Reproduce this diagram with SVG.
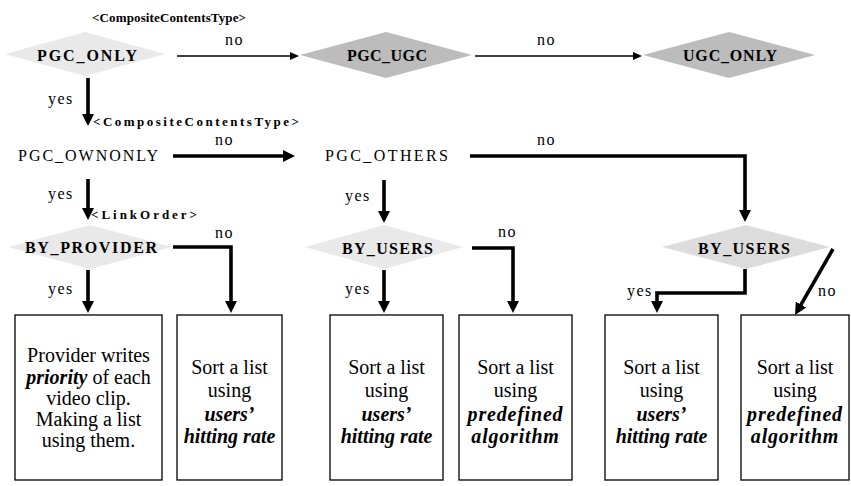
<svg xmlns="http://www.w3.org/2000/svg" width="851" height="486" viewBox="0 0 851 486" font-family="'Liberation Serif', 'DejaVu Serif', serif">
<style>
text{font-family:'Liberation Serif','DejaVu Serif',serif;fill:#000}
.tag{font-size:13px;font-weight:bold}
.lbl{font-size:16px;letter-spacing:1.5px}
.nb{font-size:16px;font-weight:bold}
.nr{font-size:16px}
.bx{font-size:20px;text-anchor:middle}
.bi{font-weight:bold;font-style:italic}
.faint{fill:#e9e9e9}
.dark{fill:#bcbcbc}
.mid{fill:#dcdcdc}
.box{fill:#fff;stroke:#000;stroke-width:1.3}
.thin{fill:none;stroke:#000;stroke-width:1.6}
.thick{fill:none;stroke:#000;stroke-width:3.6}
</style>
<defs>
<marker id="ah" markerUnits="userSpaceOnUse" markerWidth="12" markerHeight="12" refX="6" refY="6" orient="auto"><path d="M0,0 L12,6 L0,12 z" fill="#000"/></marker>
<marker id="as" markerUnits="userSpaceOnUse" markerWidth="9" markerHeight="8" refX="5" refY="4" orient="auto"><path d="M0,0 L9,4 L0,8 z" fill="#000"/></marker>
</defs>
<rect width="851" height="486" fill="#fff"/>

<text class="tag" x="92" y="22" textLength="154" lengthAdjust="spacing">&lt;CompositeContentsType&gt;</text>
<text class="tag" x="93" y="126" textLength="206" lengthAdjust="spacing">&lt;CompositeContentsType&gt;</text>
<text class="tag" x="91" y="219" textLength="106" lengthAdjust="spacing">&lt;LinkOrder&gt;</text>

<g id="pgc_only">
<polygon class="faint" points="5,54 85,32 165,54 85,76"/>
<text class="nb" x="37" y="61" textLength="100" lengthAdjust="spacing">PGC_ONLY</text>
</g>
<g id="pgc_ugc">
<polygon class="dark" points="300,55 386,32 472,55 386,78"/>
<text class="nb" x="347" y="61" textLength="80" lengthAdjust="spacing">PGC_UGC</text>
</g>
<g id="ugc_only">
<polygon class="dark" points="643,55 729,32 815,55 729,78"/>
<text class="nb" x="683" y="61" textLength="94" lengthAdjust="spacing">UGC_ONLY</text>
</g>
<g id="pgc_ownonly">
<text class="nr" x="18" y="161" textLength="140" lengthAdjust="spacing">PGC_OWNONLY</text>
</g>
<g id="pgc_others">
<text class="nr" x="325" y="161" textLength="123" lengthAdjust="spacing">PGC_OTHERS</text>
</g>
<g id="by_provider">
<polygon class="faint" points="8,247 90,225 172,247 90,269"/>
<text class="nb" x="25" y="253" textLength="132" lengthAdjust="spacing">BY_PROVIDER</text>
</g>
<g id="by_users_1">
<polygon class="faint" points="305,247 384,225 463,247 384,269"/>
<text class="nb" x="342" y="254" textLength="91" lengthAdjust="spacing">BY_USERS</text>
</g>
<g id="by_users_2">
<polygon class="mid" points="662,247 746,225 830,247 746,269"/>
<text class="nb" x="698" y="254" textLength="92" lengthAdjust="spacing">BY_USERS</text>
</g>

<g id="box1">
<rect class="box" x="15" y="315" width="147" height="165"/>
<text class="bx" x="88.5" y="362">Provider writes</text>
<text class="bx" x="88.5" y="384"><tspan class="bi">priority</tspan> of each</text>
<text class="bx" x="88.5" y="405">video clip.</text>
<text class="bx" x="88.5" y="426">Making a list</text>
<text class="bx" x="88.5" y="447">using them.</text>
</g>
<g id="box2">
<rect class="box" x="177" y="315" width="105" height="165"/>
<text class="bx" x="229.5" y="374">Sort a list</text>
<text class="bx" x="229.5" y="397">using</text>
<text class="bx bi" x="229.5" y="421">users’</text>
<text class="bx bi" x="229.5" y="443">hitting rate</text>
</g>
<g id="box3">
<rect class="box" x="330" y="315" width="113" height="165"/>
<text class="bx" x="386.5" y="374">Sort a list</text>
<text class="bx" x="386.5" y="397">using</text>
<text class="bx bi" x="386.5" y="421">users’</text>
<text class="bx bi" x="386.5" y="443">hitting rate</text>
</g>
<g id="box4">
<rect class="box" x="459" y="315" width="113" height="165"/>
<text class="bx" x="515.5" y="374">Sort a list</text>
<text class="bx" x="515.5" y="397">using</text>
<text class="bx bi" x="515.5" y="421" letter-spacing="0.8">predefined</text>
<text class="bx bi" x="515.5" y="443" letter-spacing="0.8">algorithm</text>
</g>
<g id="box5">
<rect class="box" x="605" y="315" width="113" height="165"/>
<text class="bx" x="661.5" y="374">Sort a list</text>
<text class="bx" x="661.5" y="397">using</text>
<text class="bx bi" x="661.5" y="421">users’</text>
<text class="bx bi" x="661.5" y="443">hitting rate</text>
</g>
<g id="box6">
<rect class="box" x="741" y="315" width="108" height="165"/>
<text class="bx" x="795" y="374">Sort a list</text>
<text class="bx" x="795" y="397">using</text>
<text class="bx bi" x="795" y="421" letter-spacing="0.8">predefined</text>
<text class="bx bi" x="795" y="443" letter-spacing="0.8">algorithm</text>
</g>

<g id="connectors">
<path class="thin" d="M177,56 H295" marker-end="url(#as)"/>
<path class="thin" d="M475,56 H638" marker-end="url(#as)"/>
<path class="thick" d="M88,78 V120" marker-end="url(#ah)"/>
<path class="thick" d="M173,156 H289" marker-end="url(#ah)"/>
<path class="thick" d="M88,179 V214" marker-end="url(#ah)"/>
<path class="thick" d="M470,156 H745 V216" marker-end="url(#ah)"/>
<path class="thick" d="M384,180 V217" marker-end="url(#ah)"/>
<path class="thick" d="M173,247 H231 V307" marker-end="url(#ah)"/>
<path class="thick" d="M472,248 H513 V307" marker-end="url(#ah)"/>
<path class="thick" d="M88,270 V307" marker-end="url(#ah)"/>
<path class="thick" d="M384,270 V307" marker-end="url(#ah)"/>
<path class="thick" d="M745,269 V293 H657 V307" marker-end="url(#ah)"/>
<path class="thick" d="M833,249 L798,309.8" marker-end="url(#ah)"/>
<text class="lbl" x="225" y="45">no</text>
<text class="lbl" x="537" y="45">no</text>
<text class="lbl" x="48" y="104">yes</text>
<text class="lbl" x="215" y="145">no</text>
<text class="lbl" x="537" y="145">no</text>
<text class="lbl" x="48" y="199">yes</text>
<text class="lbl" x="345" y="201">yes</text>
<text class="lbl" x="215" y="238">no</text>
<text class="lbl" x="498" y="237">no</text>
<text class="lbl" x="48" y="294">yes</text>
<text class="lbl" x="345" y="294">yes</text>
<text class="lbl" x="627" y="296">yes</text>
<text class="lbl" x="818" y="296">no</text>
</g>
</svg>
